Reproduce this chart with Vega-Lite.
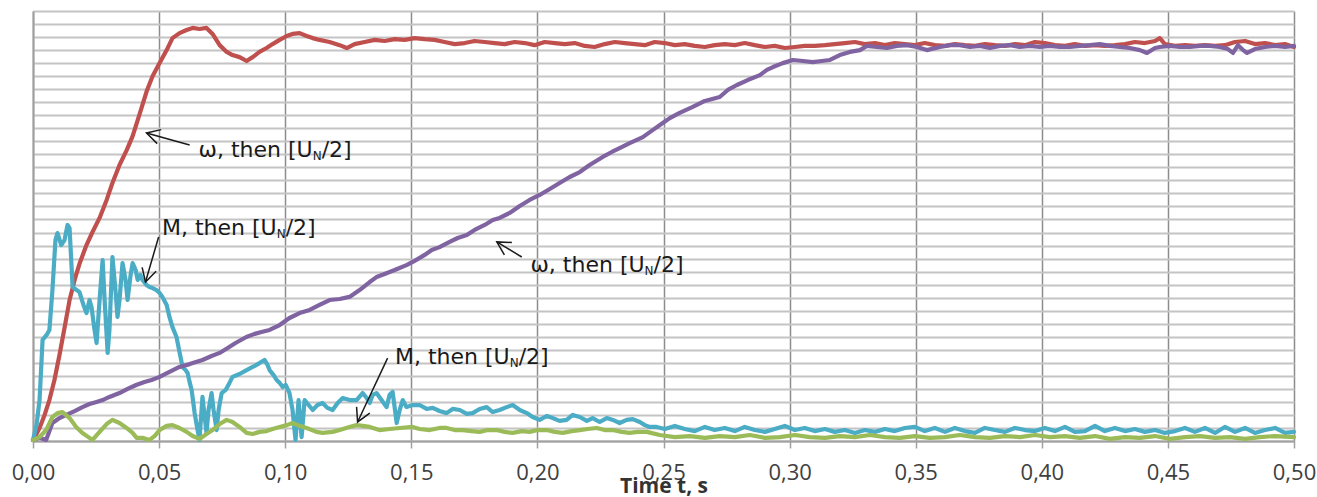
{
  "$schema": "https://vega.github.io/schema/vega-lite/v6.json",
  "width": 1261,
  "height": 430,
  "autosize": {"type": "none"},
  "padding": {"left": 33, "top": 11, "right": 23, "bottom": 56},
  "background": "white",
  "config": {"view": {"stroke": null}},
  "datasets": {
    "curves": [
      {"s":"omega_1","t":0.0000,"v":0.004},{"s":"omega_1","t":0.0006,"v":0.012},{"s":"omega_1","t":0.0026,"v":0.050},{"s":"omega_1","t":0.0046,"v":0.100},{"s":"omega_1","t":0.0065,"v":0.157},{"s":"omega_1","t":0.0085,"v":0.234},{"s":"omega_1","t":0.0105,"v":0.330},{"s":"omega_1","t":0.0125,"v":0.434},{"s":"omega_1","t":0.0145,"v":0.541},{"s":"omega_1","t":0.0165,"v":0.618},{"s":"omega_1","t":0.0184,"v":0.679},{"s":"omega_1","t":0.0212,"v":0.752},{"s":"omega_1","t":0.0236,"v":0.802},{"s":"omega_1","t":0.0264,"v":0.856},{"s":"omega_1","t":0.0292,"v":0.925},{"s":"omega_1","t":0.0315,"v":0.990},{"s":"omega_1","t":0.0343,"v":1.059},{"s":"omega_1","t":0.0372,"v":1.117},{"s":"omega_1","t":0.0395,"v":1.170},{"s":"omega_1","t":0.0423,"v":1.255},{"s":"omega_1","t":0.0450,"v":1.340},{"s":"omega_1","t":0.0474,"v":1.400},{"s":"omega_1","t":0.0502,"v":1.450},{"s":"omega_1","t":0.0530,"v":1.500},{"s":"omega_1","t":0.0553,"v":1.546},{"s":"omega_1","t":0.0581,"v":1.565},{"s":"omega_1","t":0.0609,"v":1.577},{"s":"omega_1","t":0.0633,"v":1.585},{"s":"omega_1","t":0.0660,"v":1.581},{"s":"omega_1","t":0.0688,"v":1.585},{"s":"omega_1","t":0.0712,"v":1.562},{"s":"omega_1","t":0.0740,"v":1.519},{"s":"omega_1","t":0.0768,"v":1.493},{"s":"omega_1","t":0.0791,"v":1.481},{"s":"omega_1","t":0.0819,"v":1.473},{"s":"omega_1","t":0.0847,"v":1.458},{"s":"omega_1","t":0.0871,"v":1.473},{"s":"omega_1","t":0.0898,"v":1.493},{"s":"omega_1","t":0.0926,"v":1.508},{"s":"omega_1","t":0.0950,"v":1.523},{"s":"omega_1","t":0.0978,"v":1.539},{"s":"omega_1","t":0.1006,"v":1.554},{"s":"omega_1","t":0.1029,"v":1.562},{"s":"omega_1","t":0.1057,"v":1.565},{"s":"omega_1","t":0.1085,"v":1.554},{"s":"omega_1","t":0.1109,"v":1.546},{"s":"omega_1","t":0.1136,"v":1.539},{"s":"omega_1","t":0.1176,"v":1.531},{"s":"omega_1","t":0.1216,"v":1.519},{"s":"omega_1","t":0.1244,"v":1.508},{"s":"omega_1","t":0.1275,"v":1.523},{"s":"omega_1","t":0.1315,"v":1.531},{"s":"omega_1","t":0.1355,"v":1.539},{"s":"omega_1","t":0.1394,"v":1.535},{"s":"omega_1","t":0.1434,"v":1.542},{"s":"omega_1","t":0.1474,"v":1.539},{"s":"omega_1","t":0.1513,"v":1.546},{"s":"omega_1","t":0.1553,"v":1.542},{"s":"omega_1","t":0.1592,"v":1.539},{"s":"omega_1","t":0.1632,"v":1.531},{"s":"omega_1","t":0.1672,"v":1.523},{"s":"omega_1","t":0.1712,"v":1.527},{"s":"omega_1","t":0.1751,"v":1.535},{"s":"omega_1","t":0.1791,"v":1.531},{"s":"omega_1","t":0.1831,"v":1.527},{"s":"omega_1","t":0.1870,"v":1.523},{"s":"omega_1","t":0.1910,"v":1.531},{"s":"omega_1","t":0.1950,"v":1.527},{"s":"omega_1","t":0.1989,"v":1.519},{"s":"omega_1","t":0.2029,"v":1.531},{"s":"omega_1","t":0.2069,"v":1.527},{"s":"omega_1","t":0.2108,"v":1.523},{"s":"omega_1","t":0.2148,"v":1.527},{"s":"omega_1","t":0.2188,"v":1.516},{"s":"omega_1","t":0.2227,"v":1.512},{"s":"omega_1","t":0.2267,"v":1.523},{"s":"omega_1","t":0.2307,"v":1.531},{"s":"omega_1","t":0.2346,"v":1.527},{"s":"omega_1","t":0.2386,"v":1.523},{"s":"omega_1","t":0.2426,"v":1.519},{"s":"omega_1","t":0.2465,"v":1.531},{"s":"omega_1","t":0.2505,"v":1.527},{"s":"omega_1","t":0.2545,"v":1.519},{"s":"omega_1","t":0.2584,"v":1.523},{"s":"omega_1","t":0.2624,"v":1.516},{"s":"omega_1","t":0.2664,"v":1.512},{"s":"omega_1","t":0.2703,"v":1.519},{"s":"omega_1","t":0.2743,"v":1.523},{"s":"omega_1","t":0.2783,"v":1.519},{"s":"omega_1","t":0.2822,"v":1.527},{"s":"omega_1","t":0.2862,"v":1.519},{"s":"omega_1","t":0.2902,"v":1.512},{"s":"omega_1","t":0.2941,"v":1.516},{"s":"omega_1","t":0.2981,"v":1.508},{"s":"omega_1","t":0.3021,"v":1.512},{"s":"omega_1","t":0.3060,"v":1.516},{"s":"omega_1","t":0.3100,"v":1.516},{"s":"omega_1","t":0.3140,"v":1.519},{"s":"omega_1","t":0.3179,"v":1.523},{"s":"omega_1","t":0.3219,"v":1.527},{"s":"omega_1","t":0.3259,"v":1.531},{"s":"omega_1","t":0.3298,"v":1.523},{"s":"omega_1","t":0.3338,"v":1.527},{"s":"omega_1","t":0.3378,"v":1.519},{"s":"omega_1","t":0.3417,"v":1.527},{"s":"omega_1","t":0.3457,"v":1.523},{"s":"omega_1","t":0.3497,"v":1.519},{"s":"omega_1","t":0.3536,"v":1.527},{"s":"omega_1","t":0.3576,"v":1.519},{"s":"omega_1","t":0.3616,"v":1.516},{"s":"omega_1","t":0.3655,"v":1.523},{"s":"omega_1","t":0.3695,"v":1.519},{"s":"omega_1","t":0.3735,"v":1.516},{"s":"omega_1","t":0.3774,"v":1.523},{"s":"omega_1","t":0.3814,"v":1.519},{"s":"omega_1","t":0.3854,"v":1.516},{"s":"omega_1","t":0.3893,"v":1.523},{"s":"omega_1","t":0.3933,"v":1.519},{"s":"omega_1","t":0.3973,"v":1.531},{"s":"omega_1","t":0.4012,"v":1.527},{"s":"omega_1","t":0.4052,"v":1.519},{"s":"omega_1","t":0.4092,"v":1.516},{"s":"omega_1","t":0.4131,"v":1.523},{"s":"omega_1","t":0.4171,"v":1.516},{"s":"omega_1","t":0.4211,"v":1.519},{"s":"omega_1","t":0.4250,"v":1.516},{"s":"omega_1","t":0.4290,"v":1.519},{"s":"omega_1","t":0.4330,"v":1.523},{"s":"omega_1","t":0.4369,"v":1.531},{"s":"omega_1","t":0.4409,"v":1.527},{"s":"omega_1","t":0.4449,"v":1.535},{"s":"omega_1","t":0.4468,"v":1.546},{"s":"omega_1","t":0.4488,"v":1.523},{"s":"omega_1","t":0.4528,"v":1.516},{"s":"omega_1","t":0.4568,"v":1.519},{"s":"omega_1","t":0.4607,"v":1.516},{"s":"omega_1","t":0.4647,"v":1.519},{"s":"omega_1","t":0.4687,"v":1.516},{"s":"omega_1","t":0.4726,"v":1.519},{"s":"omega_1","t":0.4766,"v":1.531},{"s":"omega_1","t":0.4806,"v":1.535},{"s":"omega_1","t":0.4845,"v":1.523},{"s":"omega_1","t":0.4885,"v":1.527},{"s":"omega_1","t":0.4925,"v":1.519},{"s":"omega_1","t":0.4964,"v":1.523},{"s":"omega_1","t":0.5000,"v":1.512},

      {"s":"M_1","t":0.0000,"v":0.004},{"s":"M_1","t":0.0014,"v":0.061},{"s":"M_1","t":0.0026,"v":0.157},{"s":"M_1","t":0.0038,"v":0.388},{"s":"M_1","t":0.0054,"v":0.407},{"s":"M_1","t":0.0065,"v":0.426},{"s":"M_1","t":0.0077,"v":0.579},{"s":"M_1","t":0.0089,"v":0.771},{"s":"M_1","t":0.0097,"v":0.798},{"s":"M_1","t":0.0112,"v":0.752},{"s":"M_1","t":0.0125,"v":0.771},{"s":"M_1","t":0.0137,"v":0.829},{"s":"M_1","t":0.0145,"v":0.817},{"s":"M_1","t":0.0157,"v":0.591},{"s":"M_1","t":0.0173,"v":0.579},{"s":"M_1","t":0.0184,"v":0.572},{"s":"M_1","t":0.0200,"v":0.522},{"s":"M_1","t":0.0212,"v":0.491},{"s":"M_1","t":0.0224,"v":0.541},{"s":"M_1","t":0.0232,"v":0.514},{"s":"M_1","t":0.0244,"v":0.426},{"s":"M_1","t":0.0252,"v":0.376},{"s":"M_1","t":0.0264,"v":0.541},{"s":"M_1","t":0.0276,"v":0.694},{"s":"M_1","t":0.0284,"v":0.541},{"s":"M_1","t":0.0296,"v":0.338},{"s":"M_1","t":0.0303,"v":0.426},{"s":"M_1","t":0.0315,"v":0.706},{"s":"M_1","t":0.0327,"v":0.579},{"s":"M_1","t":0.0335,"v":0.476},{"s":"M_1","t":0.0343,"v":0.541},{"s":"M_1","t":0.0355,"v":0.683},{"s":"M_1","t":0.0367,"v":0.618},{"s":"M_1","t":0.0375,"v":0.541},{"s":"M_1","t":0.0387,"v":0.637},{"s":"M_1","t":0.0395,"v":0.683},{"s":"M_1","t":0.0407,"v":0.656},{"s":"M_1","t":0.0415,"v":0.618},{"s":"M_1","t":0.0426,"v":0.637},{"s":"M_1","t":0.0434,"v":0.618},{"s":"M_1","t":0.0450,"v":0.599},{"s":"M_1","t":0.0462,"v":0.591},{"s":"M_1","t":0.0474,"v":0.587},{"s":"M_1","t":0.0490,"v":0.579},{"s":"M_1","t":0.0502,"v":0.568},{"s":"M_1","t":0.0513,"v":0.553},{"s":"M_1","t":0.0530,"v":0.522},{"s":"M_1","t":0.0541,"v":0.476},{"s":"M_1","t":0.0553,"v":0.437},{"s":"M_1","t":0.0569,"v":0.399},{"s":"M_1","t":0.0581,"v":0.341},{"s":"M_1","t":0.0593,"v":0.284},{"s":"M_1","t":0.0605,"v":0.272},{"s":"M_1","t":0.0613,"v":0.261},{"s":"M_1","t":0.0621,"v":0.226},{"s":"M_1","t":0.0629,"v":0.196},{"s":"M_1","t":0.0641,"v":0.107},{"s":"M_1","t":0.0649,"v":0.061},{"s":"M_1","t":0.0660,"v":0.004},{"s":"M_1","t":0.0672,"v":0.169},{"s":"M_1","t":0.0680,"v":0.100},{"s":"M_1","t":0.0688,"v":0.031},{"s":"M_1","t":0.0696,"v":0.119},{"s":"M_1","t":0.0708,"v":0.184},{"s":"M_1","t":0.0716,"v":0.119},{"s":"M_1","t":0.0728,"v":0.042},{"s":"M_1","t":0.0736,"v":0.119},{"s":"M_1","t":0.0748,"v":0.184},{"s":"M_1","t":0.0764,"v":0.196},{"s":"M_1","t":0.0779,"v":0.223},{"s":"M_1","t":0.0791,"v":0.246},{"s":"M_1","t":0.0819,"v":0.257},{"s":"M_1","t":0.0847,"v":0.272},{"s":"M_1","t":0.0871,"v":0.284},{"s":"M_1","t":0.0898,"v":0.299},{"s":"M_1","t":0.0918,"v":0.311},{"s":"M_1","t":0.0930,"v":0.292},{"s":"M_1","t":0.0938,"v":0.272},{"s":"M_1","t":0.0954,"v":0.253},{"s":"M_1","t":0.0966,"v":0.234},{"s":"M_1","t":0.0978,"v":0.223},{"s":"M_1","t":0.0990,"v":0.207},{"s":"M_1","t":0.1002,"v":0.215},{"s":"M_1","t":0.1017,"v":0.184},{"s":"M_1","t":0.1029,"v":0.119},{"s":"M_1","t":0.1041,"v":0.004},{"s":"M_1","t":0.1053,"v":0.157},{"s":"M_1","t":0.1065,"v":0.015},{"s":"M_1","t":0.1077,"v":0.157},{"s":"M_1","t":0.1093,"v":0.138},{"s":"M_1","t":0.1109,"v":0.119},{"s":"M_1","t":0.1128,"v":0.138},{"s":"M_1","t":0.1148,"v":0.146},{"s":"M_1","t":0.1168,"v":0.127},{"s":"M_1","t":0.1188,"v":0.119},{"s":"M_1","t":0.1208,"v":0.146},{"s":"M_1","t":0.1228,"v":0.165},{"s":"M_1","t":0.1255,"v":0.157},{"s":"M_1","t":0.1283,"v":0.157},{"s":"M_1","t":0.1307,"v":0.184},{"s":"M_1","t":0.1323,"v":0.165},{"s":"M_1","t":0.1335,"v":0.146},{"s":"M_1","t":0.1347,"v":0.177},{"s":"M_1","t":0.1362,"v":0.184},{"s":"M_1","t":0.1382,"v":0.157},{"s":"M_1","t":0.1402,"v":0.130},{"s":"M_1","t":0.1414,"v":0.177},{"s":"M_1","t":0.1426,"v":0.188},{"s":"M_1","t":0.1442,"v":0.069},{"s":"M_1","t":0.1454,"v":0.119},{"s":"M_1","t":0.1466,"v":0.157},{"s":"M_1","t":0.1481,"v":0.130},{"s":"M_1","t":0.1505,"v":0.138},{"s":"M_1","t":0.1533,"v":0.138},{"s":"M_1","t":0.1561,"v":0.123},{"s":"M_1","t":0.1585,"v":0.127},{"s":"M_1","t":0.1612,"v":0.115},{"s":"M_1","t":0.1640,"v":0.107},{"s":"M_1","t":0.1664,"v":0.123},{"s":"M_1","t":0.1692,"v":0.119},{"s":"M_1","t":0.1720,"v":0.104},{"s":"M_1","t":0.1743,"v":0.107},{"s":"M_1","t":0.1771,"v":0.123},{"s":"M_1","t":0.1799,"v":0.130},{"s":"M_1","t":0.1823,"v":0.111},{"s":"M_1","t":0.1850,"v":0.119},{"s":"M_1","t":0.1878,"v":0.130},{"s":"M_1","t":0.1902,"v":0.138},{"s":"M_1","t":0.1930,"v":0.119},{"s":"M_1","t":0.1958,"v":0.107},{"s":"M_1","t":0.1981,"v":0.092},{"s":"M_1","t":0.2009,"v":0.081},{"s":"M_1","t":0.2037,"v":0.096},{"s":"M_1","t":0.2061,"v":0.088},{"s":"M_1","t":0.2088,"v":0.077},{"s":"M_1","t":0.2116,"v":0.081},{"s":"M_1","t":0.2140,"v":0.100},{"s":"M_1","t":0.2168,"v":0.092},{"s":"M_1","t":0.2196,"v":0.077},{"s":"M_1","t":0.2219,"v":0.088},{"s":"M_1","t":0.2247,"v":0.073},{"s":"M_1","t":0.2275,"v":0.088},{"s":"M_1","t":0.2299,"v":0.081},{"s":"M_1","t":0.2326,"v":0.069},{"s":"M_1","t":0.2354,"v":0.081},{"s":"M_1","t":0.2378,"v":0.084},{"s":"M_1","t":0.2406,"v":0.073},{"s":"M_1","t":0.2426,"v":0.061},{"s":"M_1","t":0.2445,"v":0.054},{"s":"M_1","t":0.2473,"v":0.054},{"s":"M_1","t":0.2505,"v":0.046},{"s":"M_1","t":0.2545,"v":0.058},{"s":"M_1","t":0.2584,"v":0.046},{"s":"M_1","t":0.2624,"v":0.038},{"s":"M_1","t":0.2664,"v":0.054},{"s":"M_1","t":0.2703,"v":0.042},{"s":"M_1","t":0.2743,"v":0.050},{"s":"M_1","t":0.2783,"v":0.038},{"s":"M_1","t":0.2822,"v":0.054},{"s":"M_1","t":0.2862,"v":0.042},{"s":"M_1","t":0.2902,"v":0.035},{"s":"M_1","t":0.2941,"v":0.046},{"s":"M_1","t":0.2981,"v":0.058},{"s":"M_1","t":0.3021,"v":0.042},{"s":"M_1","t":0.3060,"v":0.050},{"s":"M_1","t":0.3100,"v":0.038},{"s":"M_1","t":0.3140,"v":0.046},{"s":"M_1","t":0.3179,"v":0.035},{"s":"M_1","t":0.3219,"v":0.042},{"s":"M_1","t":0.3259,"v":0.031},{"s":"M_1","t":0.3298,"v":0.042},{"s":"M_1","t":0.3338,"v":0.035},{"s":"M_1","t":0.3378,"v":0.046},{"s":"M_1","t":0.3417,"v":0.038},{"s":"M_1","t":0.3457,"v":0.050},{"s":"M_1","t":0.3497,"v":0.054},{"s":"M_1","t":0.3536,"v":0.038},{"s":"M_1","t":0.3576,"v":0.050},{"s":"M_1","t":0.3616,"v":0.035},{"s":"M_1","t":0.3655,"v":0.050},{"s":"M_1","t":0.3695,"v":0.038},{"s":"M_1","t":0.3735,"v":0.031},{"s":"M_1","t":0.3774,"v":0.050},{"s":"M_1","t":0.3814,"v":0.042},{"s":"M_1","t":0.3854,"v":0.035},{"s":"M_1","t":0.3893,"v":0.050},{"s":"M_1","t":0.3933,"v":0.042},{"s":"M_1","t":0.3973,"v":0.038},{"s":"M_1","t":0.4012,"v":0.050},{"s":"M_1","t":0.4052,"v":0.038},{"s":"M_1","t":0.4092,"v":0.054},{"s":"M_1","t":0.4131,"v":0.035},{"s":"M_1","t":0.4171,"v":0.038},{"s":"M_1","t":0.4211,"v":0.058},{"s":"M_1","t":0.4250,"v":0.038},{"s":"M_1","t":0.4290,"v":0.050},{"s":"M_1","t":0.4330,"v":0.038},{"s":"M_1","t":0.4369,"v":0.046},{"s":"M_1","t":0.4409,"v":0.035},{"s":"M_1","t":0.4449,"v":0.042},{"s":"M_1","t":0.4488,"v":0.031},{"s":"M_1","t":0.4528,"v":0.038},{"s":"M_1","t":0.4568,"v":0.050},{"s":"M_1","t":0.4607,"v":0.035},{"s":"M_1","t":0.4647,"v":0.050},{"s":"M_1","t":0.4687,"v":0.031},{"s":"M_1","t":0.4726,"v":0.054},{"s":"M_1","t":0.4766,"v":0.035},{"s":"M_1","t":0.4806,"v":0.050},{"s":"M_1","t":0.4845,"v":0.031},{"s":"M_1","t":0.4885,"v":0.042},{"s":"M_1","t":0.4925,"v":0.050},{"s":"M_1","t":0.4964,"v":0.031},{"s":"M_1","t":0.5000,"v":0.035},

      {"s":"omega_2","t":0.0000,"v":0.004},{"s":"omega_2","t":0.0026,"v":0.012},{"s":"omega_2","t":0.0052,"v":0.004},{"s":"omega_2","t":0.0077,"v":0.069},{"s":"omega_2","t":0.0105,"v":0.088},{"s":"omega_2","t":0.0132,"v":0.100},{"s":"omega_2","t":0.0165,"v":0.115},{"s":"omega_2","t":0.0196,"v":0.130},{"s":"omega_2","t":0.0224,"v":0.142},{"s":"omega_2","t":0.0252,"v":0.150},{"s":"omega_2","t":0.0276,"v":0.157},{"s":"omega_2","t":0.0303,"v":0.169},{"s":"omega_2","t":0.0343,"v":0.184},{"s":"omega_2","t":0.0375,"v":0.200},{"s":"omega_2","t":0.0409,"v":0.215},{"s":"omega_2","t":0.0442,"v":0.226},{"s":"omega_2","t":0.0470,"v":0.234},{"s":"omega_2","t":0.0502,"v":0.246},{"s":"omega_2","t":0.0541,"v":0.265},{"s":"omega_2","t":0.0581,"v":0.284},{"s":"omega_2","t":0.0621,"v":0.295},{"s":"omega_2","t":0.0672,"v":0.311},{"s":"omega_2","t":0.0708,"v":0.326},{"s":"omega_2","t":0.0740,"v":0.338},{"s":"omega_2","t":0.0772,"v":0.357},{"s":"omega_2","t":0.0803,"v":0.376},{"s":"omega_2","t":0.0846,"v":0.399},{"s":"omega_2","t":0.0879,"v":0.411},{"s":"omega_2","t":0.0906,"v":0.418},{"s":"omega_2","t":0.0938,"v":0.426},{"s":"omega_2","t":0.0978,"v":0.445},{"s":"omega_2","t":0.1017,"v":0.472},{"s":"omega_2","t":0.1057,"v":0.491},{"s":"omega_2","t":0.1097,"v":0.503},{"s":"omega_2","t":0.1136,"v":0.522},{"s":"omega_2","t":0.1176,"v":0.541},{"s":"omega_2","t":0.1216,"v":0.545},{"s":"omega_2","t":0.1255,"v":0.553},{"s":"omega_2","t":0.1295,"v":0.579},{"s":"omega_2","t":0.1335,"v":0.610},{"s":"omega_2","t":0.1362,"v":0.629},{"s":"omega_2","t":0.1394,"v":0.641},{"s":"omega_2","t":0.1434,"v":0.656},{"s":"omega_2","t":0.1481,"v":0.675},{"s":"omega_2","t":0.1513,"v":0.691},{"s":"omega_2","t":0.1553,"v":0.714},{"s":"omega_2","t":0.1581,"v":0.733},{"s":"omega_2","t":0.1612,"v":0.744},{"s":"omega_2","t":0.1652,"v":0.764},{"s":"omega_2","t":0.1684,"v":0.779},{"s":"omega_2","t":0.1720,"v":0.790},{"s":"omega_2","t":0.1751,"v":0.810},{"s":"omega_2","t":0.1791,"v":0.829},{"s":"omega_2","t":0.1823,"v":0.848},{"s":"omega_2","t":0.1850,"v":0.856},{"s":"omega_2","t":0.1890,"v":0.875},{"s":"omega_2","t":0.1930,"v":0.902},{"s":"omega_2","t":0.1969,"v":0.925},{"s":"omega_2","t":0.2009,"v":0.944},{"s":"omega_2","t":0.2049,"v":0.967},{"s":"omega_2","t":0.2088,"v":0.990},{"s":"omega_2","t":0.2128,"v":1.013},{"s":"omega_2","t":0.2168,"v":1.032},{"s":"omega_2","t":0.2207,"v":1.059},{"s":"omega_2","t":0.2259,"v":1.090},{"s":"omega_2","t":0.2295,"v":1.109},{"s":"omega_2","t":0.2326,"v":1.124},{"s":"omega_2","t":0.2366,"v":1.143},{"s":"omega_2","t":0.2418,"v":1.166},{"s":"omega_2","t":0.2457,"v":1.193},{"s":"omega_2","t":0.2497,"v":1.220},{"s":"omega_2","t":0.2525,"v":1.239},{"s":"omega_2","t":0.2564,"v":1.259},{"s":"omega_2","t":0.2616,"v":1.282},{"s":"omega_2","t":0.2664,"v":1.305},{"s":"omega_2","t":0.2723,"v":1.320},{"s":"omega_2","t":0.2755,"v":1.347},{"s":"omega_2","t":0.2791,"v":1.366},{"s":"omega_2","t":0.2834,"v":1.385},{"s":"omega_2","t":0.2882,"v":1.404},{"s":"omega_2","t":0.2910,"v":1.424},{"s":"omega_2","t":0.2934,"v":1.435},{"s":"omega_2","t":0.2973,"v":1.450},{"s":"omega_2","t":0.3013,"v":1.462},{"s":"omega_2","t":0.3053,"v":1.458},{"s":"omega_2","t":0.3092,"v":1.454},{"s":"omega_2","t":0.3128,"v":1.458},{"s":"omega_2","t":0.3160,"v":1.462},{"s":"omega_2","t":0.3199,"v":1.481},{"s":"omega_2","t":0.3239,"v":1.493},{"s":"omega_2","t":0.3279,"v":1.500},{"s":"omega_2","t":0.3306,"v":1.516},{"s":"omega_2","t":0.3346,"v":1.512},{"s":"omega_2","t":0.3386,"v":1.508},{"s":"omega_2","t":0.3425,"v":1.516},{"s":"omega_2","t":0.3465,"v":1.519},{"s":"omega_2","t":0.3505,"v":1.512},{"s":"omega_2","t":0.3544,"v":1.500},{"s":"omega_2","t":0.3596,"v":1.512},{"s":"omega_2","t":0.3636,"v":1.519},{"s":"omega_2","t":0.3675,"v":1.519},{"s":"omega_2","t":0.3715,"v":1.512},{"s":"omega_2","t":0.3755,"v":1.516},{"s":"omega_2","t":0.3794,"v":1.508},{"s":"omega_2","t":0.3834,"v":1.516},{"s":"omega_2","t":0.3874,"v":1.519},{"s":"omega_2","t":0.3913,"v":1.512},{"s":"omega_2","t":0.3953,"v":1.516},{"s":"omega_2","t":0.3992,"v":1.512},{"s":"omega_2","t":0.4032,"v":1.516},{"s":"omega_2","t":0.4072,"v":1.512},{"s":"omega_2","t":0.4111,"v":1.512},{"s":"omega_2","t":0.4151,"v":1.516},{"s":"omega_2","t":0.4191,"v":1.519},{"s":"omega_2","t":0.4230,"v":1.523},{"s":"omega_2","t":0.4270,"v":1.516},{"s":"omega_2","t":0.4310,"v":1.512},{"s":"omega_2","t":0.4349,"v":1.508},{"s":"omega_2","t":0.4389,"v":1.500},{"s":"omega_2","t":0.4417,"v":1.489},{"s":"omega_2","t":0.4449,"v":1.508},{"s":"omega_2","t":0.4468,"v":1.512},{"s":"omega_2","t":0.4508,"v":1.516},{"s":"omega_2","t":0.4548,"v":1.512},{"s":"omega_2","t":0.4587,"v":1.512},{"s":"omega_2","t":0.4627,"v":1.516},{"s":"omega_2","t":0.4667,"v":1.516},{"s":"omega_2","t":0.4706,"v":1.512},{"s":"omega_2","t":0.4738,"v":1.504},{"s":"omega_2","t":0.4758,"v":1.489},{"s":"omega_2","t":0.4778,"v":1.519},{"s":"omega_2","t":0.4798,"v":1.500},{"s":"omega_2","t":0.4814,"v":1.489},{"s":"omega_2","t":0.4845,"v":1.504},{"s":"omega_2","t":0.4885,"v":1.512},{"s":"omega_2","t":0.4925,"v":1.516},{"s":"omega_2","t":0.4964,"v":1.512},{"s":"omega_2","t":0.5000,"v":1.516},

      {"s":"M_2","t":0.0000,"v":0.004},{"s":"M_2","t":0.0026,"v":0.015},{"s":"M_2","t":0.0052,"v":0.042},{"s":"M_2","t":0.0077,"v":0.092},{"s":"M_2","t":0.0097,"v":0.107},{"s":"M_2","t":0.0117,"v":0.111},{"s":"M_2","t":0.0145,"v":0.088},{"s":"M_2","t":0.0171,"v":0.054},{"s":"M_2","t":0.0196,"v":0.031},{"s":"M_2","t":0.0224,"v":0.012},{"s":"M_2","t":0.0236,"v":0.004},{"s":"M_2","t":0.0264,"v":0.035},{"s":"M_2","t":0.0292,"v":0.065},{"s":"M_2","t":0.0315,"v":0.081},{"s":"M_2","t":0.0343,"v":0.069},{"s":"M_2","t":0.0371,"v":0.050},{"s":"M_2","t":0.0395,"v":0.031},{"s":"M_2","t":0.0411,"v":0.012},{"s":"M_2","t":0.0434,"v":0.012},{"s":"M_2","t":0.0462,"v":0.004},{"s":"M_2","t":0.0482,"v":0.019},{"s":"M_2","t":0.0502,"v":0.042},{"s":"M_2","t":0.0530,"v":0.058},{"s":"M_2","t":0.0553,"v":0.061},{"s":"M_2","t":0.0581,"v":0.050},{"s":"M_2","t":0.0609,"v":0.035},{"s":"M_2","t":0.0633,"v":0.019},{"s":"M_2","t":0.0660,"v":0.008},{"s":"M_2","t":0.0688,"v":0.027},{"s":"M_2","t":0.0712,"v":0.042},{"s":"M_2","t":0.0740,"v":0.065},{"s":"M_2","t":0.0768,"v":0.081},{"s":"M_2","t":0.0791,"v":0.073},{"s":"M_2","t":0.0819,"v":0.054},{"s":"M_2","t":0.0847,"v":0.031},{"s":"M_2","t":0.0871,"v":0.027},{"s":"M_2","t":0.0898,"v":0.035},{"s":"M_2","t":0.0926,"v":0.038},{"s":"M_2","t":0.0950,"v":0.046},{"s":"M_2","t":0.0978,"v":0.054},{"s":"M_2","t":0.1006,"v":0.061},{"s":"M_2","t":0.1029,"v":0.069},{"s":"M_2","t":0.1057,"v":0.058},{"s":"M_2","t":0.1085,"v":0.050},{"s":"M_2","t":0.1124,"v":0.035},{"s":"M_2","t":0.1148,"v":0.031},{"s":"M_2","t":0.1188,"v":0.035},{"s":"M_2","t":0.1216,"v":0.042},{"s":"M_2","t":0.1255,"v":0.054},{"s":"M_2","t":0.1283,"v":0.061},{"s":"M_2","t":0.1307,"v":0.058},{"s":"M_2","t":0.1335,"v":0.054},{"s":"M_2","t":0.1374,"v":0.042},{"s":"M_2","t":0.1414,"v":0.046},{"s":"M_2","t":0.1454,"v":0.050},{"s":"M_2","t":0.1505,"v":0.054},{"s":"M_2","t":0.1533,"v":0.046},{"s":"M_2","t":0.1573,"v":0.042},{"s":"M_2","t":0.1612,"v":0.050},{"s":"M_2","t":0.1640,"v":0.050},{"s":"M_2","t":0.1672,"v":0.042},{"s":"M_2","t":0.1704,"v":0.042},{"s":"M_2","t":0.1739,"v":0.038},{"s":"M_2","t":0.1771,"v":0.035},{"s":"M_2","t":0.1803,"v":0.042},{"s":"M_2","t":0.1838,"v":0.042},{"s":"M_2","t":0.1870,"v":0.035},{"s":"M_2","t":0.1902,"v":0.031},{"s":"M_2","t":0.1938,"v":0.038},{"s":"M_2","t":0.1969,"v":0.035},{"s":"M_2","t":0.2001,"v":0.042},{"s":"M_2","t":0.2037,"v":0.042},{"s":"M_2","t":0.2069,"v":0.035},{"s":"M_2","t":0.2100,"v":0.031},{"s":"M_2","t":0.2136,"v":0.038},{"s":"M_2","t":0.2168,"v":0.042},{"s":"M_2","t":0.2199,"v":0.046},{"s":"M_2","t":0.2235,"v":0.050},{"s":"M_2","t":0.2267,"v":0.042},{"s":"M_2","t":0.2299,"v":0.042},{"s":"M_2","t":0.2334,"v":0.035},{"s":"M_2","t":0.2366,"v":0.031},{"s":"M_2","t":0.2398,"v":0.035},{"s":"M_2","t":0.2434,"v":0.035},{"s":"M_2","t":0.2485,"v":0.023},{"s":"M_2","t":0.2545,"v":0.015},{"s":"M_2","t":0.2604,"v":0.019},{"s":"M_2","t":0.2664,"v":0.012},{"s":"M_2","t":0.2723,"v":0.019},{"s":"M_2","t":0.2783,"v":0.015},{"s":"M_2","t":0.2842,"v":0.023},{"s":"M_2","t":0.2902,"v":0.012},{"s":"M_2","t":0.2961,"v":0.015},{"s":"M_2","t":0.3021,"v":0.023},{"s":"M_2","t":0.3080,"v":0.015},{"s":"M_2","t":0.3140,"v":0.012},{"s":"M_2","t":0.3199,"v":0.019},{"s":"M_2","t":0.3259,"v":0.015},{"s":"M_2","t":0.3318,"v":0.023},{"s":"M_2","t":0.3378,"v":0.015},{"s":"M_2","t":0.3437,"v":0.012},{"s":"M_2","t":0.3497,"v":0.019},{"s":"M_2","t":0.3556,"v":0.012},{"s":"M_2","t":0.3616,"v":0.015},{"s":"M_2","t":0.3675,"v":0.023},{"s":"M_2","t":0.3735,"v":0.015},{"s":"M_2","t":0.3794,"v":0.012},{"s":"M_2","t":0.3854,"v":0.019},{"s":"M_2","t":0.3913,"v":0.015},{"s":"M_2","t":0.3973,"v":0.023},{"s":"M_2","t":0.4032,"v":0.015},{"s":"M_2","t":0.4092,"v":0.019},{"s":"M_2","t":0.4151,"v":0.012},{"s":"M_2","t":0.4211,"v":0.019},{"s":"M_2","t":0.4270,"v":0.008},{"s":"M_2","t":0.4330,"v":0.015},{"s":"M_2","t":0.4389,"v":0.012},{"s":"M_2","t":0.4449,"v":0.019},{"s":"M_2","t":0.4508,"v":0.008},{"s":"M_2","t":0.4568,"v":0.015},{"s":"M_2","t":0.4627,"v":0.019},{"s":"M_2","t":0.4687,"v":0.012},{"s":"M_2","t":0.4746,"v":0.015},{"s":"M_2","t":0.4806,"v":0.008},{"s":"M_2","t":0.4865,"v":0.015},{"s":"M_2","t":0.4925,"v":0.019},{"s":"M_2","t":0.5000,"v":0.015}
    ],
    "labels": [
      {"id":"a1","pre":"ω, then [U","t":0.1109,"v":1.117},
      {"id":"a2","pre":"M, then [U","t":0.0966,"v":0.817},
      {"id":"a3","pre":"ω, then [U","t":0.2425,"v":0.675},
      {"id":"a4","pre":"M, then [U","t":0.1890,"v":0.322}
    ],
    "arrows": [
      {"id":"a1","t":0.0621,"v":1.136,"t2":0.0450,"v2":1.182},
      {"id":"a2","t":0.0498,"v":0.783,"t2":0.0446,"v2":0.610},
      {"id":"a3","t":0.1938,"v":0.706,"t2":0.1839,"v2":0.764},
      {"id":"a4","t":0.1406,"v":0.318,"t2":0.1287,"v2":0.073}
    ]
  },
  "encoding": {
    "x": {
      "field": "t", "type": "quantitative",
      "scale": {"domain": [0, 0.5], "nice": false, "zero": false},
      "axis": {
        "title": "Time t, s",
        "values": [0,0.05,0.1,0.15,0.2,0.25,0.3,0.35,0.4,0.45,0.5],
        "labelExpr": "replace(format(datum.value, '.2f'), '.', ',')",
        "labelFont": "Open Sans", "labelFontSize": 22, "labelColor": "#404040",
        "labelPadding": 14, "labelFlush": false,
        "tickSize": 7, "tickColor": "#a0a0a0", "tickWidth": 1.5,
        "domainColor": "#a0a0a0", "domainWidth": 2,
        "grid": true, "gridColor": "#8c8c8c", "gridWidth": 1.5,
        "titleFont": "Open Sans", "titleFontSize": 21, "titleFontWeight": "bold", "titleColor": "#333333",
        "titlePadding": -8
      }
    },
    "y": {
      "field": "v", "type": "quantitative",
      "scale": {"domain": [0, 1.65], "nice": false},
      "axis": {
        "title": null, "labels": false, "ticks": false,
        "values": [0,0.05,0.1,0.15,0.2,0.25,0.3,0.35,0.4,0.45,0.5,0.55,0.6,0.65,0.7,0.75,0.8,0.85,0.9,0.95,1,1.05,1.1,1.15,1.2,1.25,1.3,1.35,1.4,1.45,1.5,1.55,1.6,1.65],
        "grid": true, "gridColor": "#c4c4c4", "gridWidth": 1.8,
        "domainColor": "#a0a0a0", "domainWidth": 2
      }
    }
  },
  "layer": [
    {
      "data": {"name": "curves"},
      "mark": {"type": "line", "strokeWidth": 4.2, "strokeJoin": "round", "strokeCap": "round", "interpolate": "linear"},
      "encoding": {
        "color": {
          "field": "s", "type": "nominal", "legend": null,
          "scale": {"domain": ["omega_1","M_1","omega_2","M_2"], "range": ["#C0504D","#4BACC6","#8064A2","#9BBB59"]}
        }
      }
    },
    {
      "data": {"name": "arrows"},
      "mark": {"type": "rule", "color": "#1a1a1a", "strokeWidth": 1.5},
      "encoding": {
        "x2": {"field": "t2"},
        "y2": {"field": "v2"}
      }
    },
    {
      "data": {"name": "arrows"},
      "transform": [{"filter": "datum.id == 'a1'"}],
      "mark": {"type": "point", "shape": "M1,-0.55L0,0L1,0.55", "filled": false, "stroke": "#1a1a1a", "strokeWidth": 1.5, "size": 700, "angle": 16, "opacity": 1},
      "encoding": {"x": {"field": "t2", "type": "quantitative"}, "y": {"field": "v2", "type": "quantitative"}}
    },
    {
      "data": {"name": "arrows"},
      "transform": [{"filter": "datum.id == 'a2'"}],
      "mark": {"type": "point", "shape": "M1,-0.55L0,0L1,0.55", "filled": false, "stroke": "#1a1a1a", "strokeWidth": 1.5, "size": 700, "angle": 286, "opacity": 1},
      "encoding": {"x": {"field": "t2", "type": "quantitative"}, "y": {"field": "v2", "type": "quantitative"}}
    },
    {
      "data": {"name": "arrows"},
      "transform": [{"filter": "datum.id == 'a3'"}],
      "mark": {"type": "point", "shape": "M1,-0.55L0,0L1,0.55", "filled": false, "stroke": "#1a1a1a", "strokeWidth": 1.5, "size": 700, "angle": 31, "opacity": 1},
      "encoding": {"x": {"field": "t2", "type": "quantitative"}, "y": {"field": "v2", "type": "quantitative"}}
    },
    {
      "data": {"name": "arrows"},
      "transform": [{"filter": "datum.id == 'a4'"}],
      "mark": {"type": "point", "shape": "M1,-0.55L0,0L1,0.55", "filled": false, "stroke": "#1a1a1a", "strokeWidth": 1.5, "size": 700, "angle": 295, "opacity": 1},
      "encoding": {"x": {"field": "t2", "type": "quantitative"}, "y": {"field": "v2", "type": "quantitative"}}
    },
    {
      "data": {"name": "labels"},
      "mark": {"type": "text", "align": "right", "baseline": "middle", "font": "DejaVu Sans", "fontSize": 22, "color": "#1a1a1a"},
      "encoding": {"text": {"field": "pre"}}
    },
    {
      "data": {"name": "labels"},
      "mark": {"type": "text", "align": "left", "baseline": "middle", "font": "DejaVu Sans", "fontSize": 12, "color": "#1a1a1a", "dx": 0, "dy": 6},
      "encoding": {"text": {"value": "N"}}
    },
    {
      "data": {"name": "labels"},
      "mark": {"type": "text", "align": "left", "baseline": "middle", "font": "DejaVu Sans", "fontSize": 22, "color": "#1a1a1a", "dx": 9},
      "encoding": {"text": {"value": "/2]"}}
    }
  ]
}
